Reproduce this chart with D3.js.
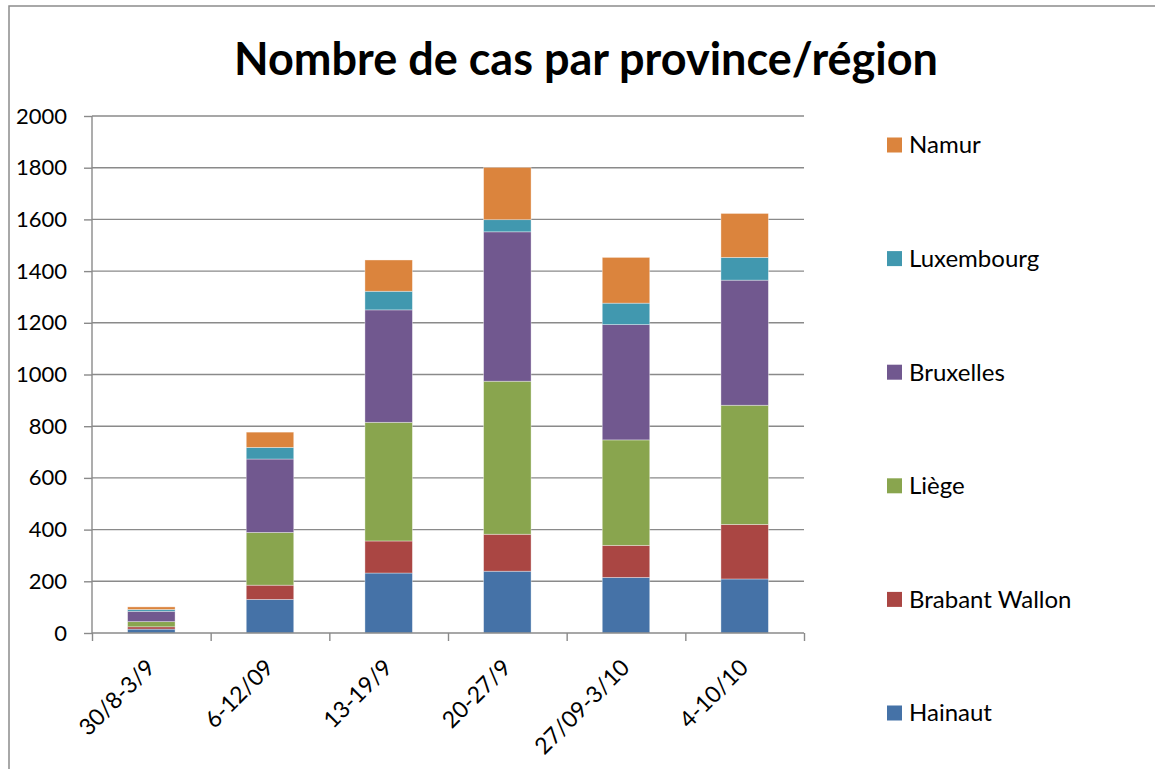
<!DOCTYPE html>
<html lang="fr">
<head>
    <meta charset="UTF-8">
    <title>Nombre de cas par province/région</title>
    <script src="https://cdn.jsdelivr.net/npm/d3@7"></script>
    <style>
        body{
            margin: 0;
            background: #fff;
            font-family: Lato, "Open Sans", sans-serif;
        }
    </style>
</head>
<body>
<svg id="main" width="1155" height="769"></svg>
<script>

    // categories (weeks) and values per province
    const weeks = ["30/8-3/9", "6-12/09", "13-19/9", "20-27/9", "27/09-3/10", "4-10/10"];
    const hainaut       = [15, 130, 232, 239, 215, 209];
    const brabantWallon = [9, 55, 124, 143, 124, 211];
    const liege         = [20, 204, 459, 592, 408, 461];
    const bruxelles     = [40, 284, 435, 578, 446, 484];
    const luxembourg    = [7, 45, 72, 47, 83, 88];
    const namur         = [10, 59, 121, 202, 177, 170];

    const seriesNames = ["Hainaut", "Brabant Wallon", "Liège", "Bruxelles", "Luxembourg", "Namur"];
    const seriesValues = [hainaut, brabantWallon, liege, bruxelles, luxembourg, namur];
    const colors = ["#4572A7", "#AA4643", "#89A54E", "#71588F", "#4198AF", "#DB843D"];
    const yTicks = [0, 200, 400, 600, 800, 1000, 1200, 1400, 1600, 1800, 2000];

    // build rows for d3.stack
    const rows = weeks.map((w, i) => {
        const r = {week: w};
        seriesNames.forEach((s, j) => r[s] = seriesValues[j][i]);
        return r;
    });
    const stacked = d3.stack().keys(seriesNames)(rows);

    const plot = {left: 92, right: 804, top: 116, bottom: 633};

    const svg = d3.select("svg#main");

    // outer frame (cut at the right and bottom like the screenshot)
    svg.append("rect")
        .attr("x", 9).attr("y", 6)
        .attr("width", 1200).attr("height", 800)
        .attr("fill", "none")
        .attr("stroke", "#8c8c8c")
        .attr("stroke-width", 1.5);

    const x = d3.scaleBand()
        .domain(weeks)
        .range([plot.left, plot.right])
        .paddingInner(0.6)
        .paddingOuter(0.3);

    const xEdge = d3.scaleLinear()
        .domain([0, weeks.length])
        .range([plot.left, plot.right]);

    const y = d3.scaleLinear()
        .domain([0, 2000])
        .range([plot.bottom, plot.top]);

    // gridlines
    svg.append("g")
        .selectAll("line")
        .data(yTicks.filter(d => d > 0))
        .enter()
        .append("line")
        .attr("x1", plot.left).attr("x2", plot.right)
        .attr("y1", d => y(d)).attr("y2", d => y(d))
        .attr("stroke", "#8a8a8a")
        .attr("stroke-width", 1.4);

    // stacked bars
    svg.append("g")
        .selectAll("g")
        .data(stacked)
        .enter()
        .append("g")
        .attr("fill", (d, i) => colors[i])
        .selectAll("rect")
        .data(d => d)
        .enter()
        .append("rect")
        .attr("x", d => x(d.data.week))
        .attr("width", x.bandwidth())
        .attr("y", d => y(d[1]))
        .attr("height", d => y(d[0]) - y(d[1]))
        .attr("stroke", "rgba(255,255,255,0.45)")
        .attr("stroke-width", 0.8);

    // y axis
    const yAxis = svg.append("g")
        .attr("transform", `translate(${plot.left},0)`)
        .call(d3.axisLeft(y).tickValues(yTicks).tickFormat(d3.format("d")).tickSize(8).tickPadding(17));
    yAxis.selectAll("line, path").attr("stroke", "#8a8a8a").attr("stroke-width", 1.4);
    yAxis.select("path").attr("d", `M0,${plot.top}V${plot.bottom}`);
    yAxis.selectAll("text")
        .attr("fill", "#000")
        .style("font-family", "Lato, sans-serif")
        .style("font-size", "22px");

    // x axis (ticks between categories)
    const xAxis = svg.append("g")
        .attr("transform", `translate(0,${plot.bottom})`)
        .call(d3.axisBottom(xEdge).ticks(weeks.length).tickFormat("").tickSize(8));
    xAxis.selectAll("line, path").attr("stroke", "#8a8a8a").attr("stroke-width", 1.4);
    xAxis.select("path").attr("d", `M${plot.left},0H${plot.right}`);

    // rotated category labels, anchored at the end of the text
    svg.append("g")
        .selectAll("text")
        .data(weeks)
        .enter()
        .append("text")
        .attr("transform", d => `translate(${x(d) + x.bandwidth() / 2 + 5},${plot.bottom + 36}) rotate(-45)`)
        .attr("text-anchor", "end")
        .style("font-size", "23px")
        .text(d => d);

    // title
    svg.append("text")
        .attr("x", 586)
        .attr("y", 75)
        .attr("text-anchor", "middle")
        .style("font-weight", "bold")
        .style("font-size", "45px")
        .text("Nombre de cas par province/région");

    // legend (top = last series)
    const legend = svg.append("g")
        .selectAll("g")
        .data(seriesNames.slice().reverse())
        .enter()
        .append("g")
        .attr("transform", (d, i) => `translate(887,${145 + i * 113.6})`);
    legend.append("rect")
        .attr("x", 0).attr("y", -7.5)
        .attr("width", 15).attr("height", 15)
        .attr("fill", d => colors[seriesNames.indexOf(d)]);
    legend.append("text")
        .attr("x", 22)
        .attr("dy", "0.35em")
        .style("font-size", "24px")
        .text(d => d);

</script>
</body>
</html>
